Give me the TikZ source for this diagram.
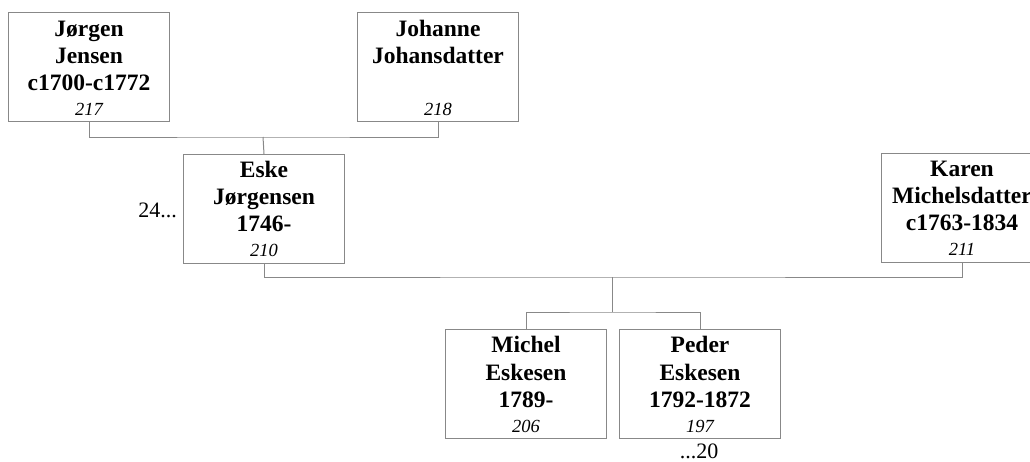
\documentclass[tikz,border=0pt]{standalone}
\usepackage{fontspec}
\setmainfont{Liberation Serif}
\definecolor{linegray}{RGB}{136,136,136}
\tikzset{
  pbox/.style={draw=linegray, line width=1pt, minimum width=161pt, minimum height=109pt, anchor=north west, inner sep=0pt},
  bname/.style={font=\fontsize{23.5}{27}\selectfont\bfseries, anchor=base, inner sep=0pt},
  pnum/.style={font=\fontsize{18.5}{22}\selectfont\itshape, anchor=base, inner sep=0pt},
  more/.style={font=\fontsize{22}{26}\selectfont, inner sep=0pt},
  conn/.style={draw=linegray, line width=1pt}
}
\begin{document}
\begin{tikzpicture}[x=1pt,y=-1pt]
\useasboundingbox (0,0) rectangle (1030,461);
% boxes
\node[pbox] (jorgen) at (8,12) {};
\node[pbox] (johanne) at (357,12) {};
\node[pbox] (eske) at (183,154) {};
\node[pbox] (karen) at (881,153) {};
\node[pbox] (michel) at (445,329) {};
\node[pbox] (peder) at (619,329) {};
% texts
\node[bname] (jorgen1) at ([yshift=-24pt]jorgen.north) {Jørgen};
\node[bname] (jorgen2) at ([yshift=-51pt]jorgen.north) {Jensen};
\node[bname] (jorgen3) at ([yshift=-78pt]jorgen.north) {c1700-c1772};
\node[pnum] (jorgen4) at ([yshift=-103pt]jorgen.north) {217};
\node[bname] (johanne1) at ([yshift=-24pt]johanne.north) {Johanne};
\node[bname] (johanne2) at ([yshift=-51pt]johanne.north) {Johansdatter};
\node[pnum] (johanne4) at ([yshift=-103pt]johanne.north) {218};
\node[bname] (eske1) at ([yshift=-23pt]eske.north) {Eske};
\node[bname] (eske2) at ([yshift=-50pt]eske.north) {Jørgensen};
\node[bname] (eske3) at ([yshift=-77pt]eske.north) {1746-};
\node[pnum] (eske4) at ([yshift=-102pt]eske.north) {210};
\node[bname] (karen1) at ([yshift=-23pt]karen.north) {Karen};
\node[bname] (karen2) at ([yshift=-50pt]karen.north) {Michelsdatter};
\node[bname] (karen3) at ([yshift=-77pt]karen.north) {c1763-1834};
\node[pnum] (karen4) at ([yshift=-102pt]karen.north) {211};
\node[bname] (michel1) at ([yshift=-23pt]michel.north) {Michel};
\node[bname] (michel2) at ([yshift=-51pt]michel.north) {Eskesen};
\node[bname] (michel3) at ([yshift=-78pt]michel.north) {1789-};
\node[pnum] (michel4) at ([yshift=-103pt]michel.north) {206};
\node[bname] (peder1) at ([yshift=-23pt]peder.north) {Peder};
\node[bname] (peder2) at ([yshift=-51pt]peder.north) {Eskesen};
\node[bname] (peder3) at ([yshift=-78pt]peder.north) {1792-1872};
\node[pnum] (peder4) at ([yshift=-103pt]peder.north) {197};
% continuation marks
\node[more, anchor=base east] (eskemore) at (177,217) {24...};
\node[more, anchor=base] (pedermore) at (699,458) {...20};
% connectors
\coordinate (j1) at (263,137);
\coordinate (j2) at (612,277);
\coordinate (j3) at (612,312);
\draw[conn] (jorgen.south) |- (j1) -| (johanne.south);
\draw[conn] (j1) -- (eske.north);
\draw[conn] (eske.south) |- (j2) -| (karen.south);
\draw[conn] (j2) -- (j3);
\draw[conn] (michel.north) |- (j3) -| (peder.north);
\end{tikzpicture}
\end{document}
